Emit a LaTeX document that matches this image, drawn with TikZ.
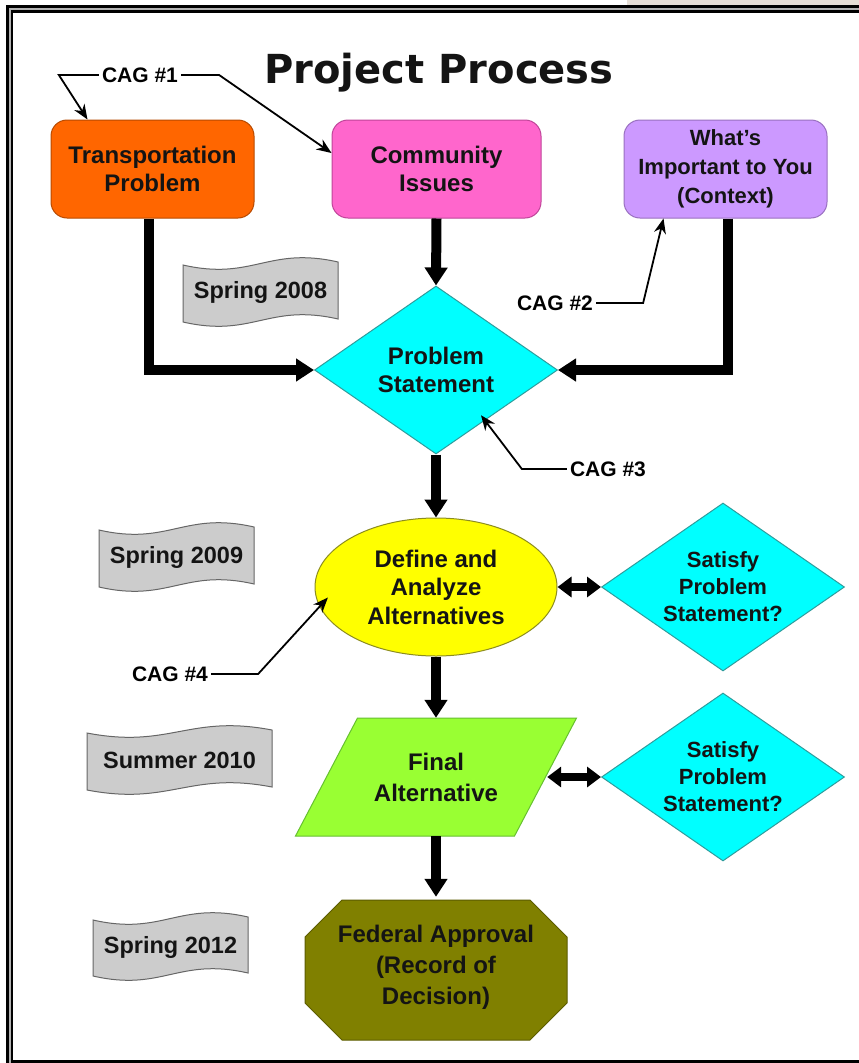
\documentclass[tikz,border=0pt]{standalone}
\usepackage{fontspec}
\setmainfont{Liberation Sans}
\newfontfamily\titlefamily{DejaVu Sans}
\usetikzlibrary{shapes.geometric,arrows.meta}
\definecolor{orangebox}{HTML}{FF6600}
\definecolor{orangeedge}{HTML}{B84A00}
\definecolor{pinkbox}{HTML}{FF66CC}
\definecolor{pinkedge}{HTML}{C04499}
\definecolor{lilac}{HTML}{CC99FF}
\definecolor{lilacedge}{HTML}{9970C0}
\definecolor{cyanbox}{HTML}{00FFFF}
\definecolor{cyanedge}{HTML}{2E9C9C}
\definecolor{yellowbox}{HTML}{FFFF00}
\definecolor{yellowedge}{HTML}{8C8C20}
\definecolor{greenbox}{HTML}{99FF33}
\definecolor{greenedge}{HTML}{66C030}
\definecolor{olivebox}{HTML}{808000}
\definecolor{oliveedge}{HTML}{5C5C00}
\definecolor{bannergray}{HTML}{CCCCCC}
\definecolor{banneredge}{HTML}{666666}
\definecolor{textblack}{HTML}{141414}
\definecolor{beige}{HTML}{E6DED6}
\newcommand\fntbox{\bfseries\fontsize{24}{28.5}\selectfont}
\newcommand\fntlow{\bfseries\fontsize{24}{31}\selectfont}
\newcommand\fntsmall{\bfseries\fontsize{22}{27}\selectfont}
\newcommand\fntwhat{\bfseries\fontsize{22}{29}\selectfont}
\newcommand\fntcag{\bfseries\fontsize{21}{25}\selectfont}
\newcommand\fntban{\bfseries\fontsize{23.5}{28}\selectfont}
\newcommand\fnttitle{\titlefamily\bfseries\fontsize{40}{48}\selectfont}
\tikzset{
  rbox/.style={rectangle, rounded corners=16pt, minimum width=203pt, minimum height=98pt,
    inner sep=0pt, align=center, font=\fntbox, text=textblack, line width=1pt},
  diam/.style={diamond, aspect=1.45, minimum width=243pt, minimum height=168pt, inner sep=0pt,
    align=center, font=\fntbox, text=textblack, fill=cyanbox, draw=cyanedge, line width=1pt},
  ell/.style={ellipse, minimum width=242pt, minimum height=138pt, inner sep=0pt,
    align=center, font=\fntbox, text=textblack, fill=yellowbox, draw=yellowedge, line width=1pt},
  plainbox/.style={rectangle, inner sep=0pt, align=center, font=\fntlow, text=textblack},
  bannershape/.style={fill=bannergray, draw=banneredge, line width=1pt},
  bannertext/.style={inner sep=0pt, font=\fntban, text=textblack},
  cagtext/.style={inner sep=3pt, font=\fntcag, text=black},
  bigarrow/.style={line width=10pt, line join=miter, -{Triangle[length=18pt,width=22pt]}},
  dblarrow/.style={line width=8pt, {Triangle[length=14pt,width=20pt]}-{Triangle[length=14pt,width=20pt]}},
  cagline/.style={line width=1.8pt, -{Stealth[length=15pt,width=12pt]}},
}
\newcommand\wavebanner[6]{%
  \filldraw[bannershape] (#2,#3) .. controls ({#2+0.45*#4},{#3+16}) and ({#2+0.55*#4},{#3-19}) .. ({#2+#4},{#3-3})
    -- ({#2+#4},{#3+#5-3}) .. controls ({#2+0.55*#4},{#3+#5-19}) and ({#2+0.45*#4},{#3+#5+16}) .. (#2,{#3+#5}) -- cycle;
  \node[bannertext] (#1) at ({#2+#4/2},{#3+#5/2-1}) {#6};
}
\begin{document}
\begin{tikzpicture}[x=1pt,y=-1pt]
\useasboundingbox (0,0) rectangle (859,1063);
\fill[white] (0,0) rectangle (859,1063);
\fill[beige] (627,0) rectangle (859,5);
% frame
\draw[line width=7pt, color=gray!60] (9.8,1063) |- (859,8.8);
\draw[line width=3pt] (7.5,1063) |- (859,6.2);
\draw[line width=2.2pt] (12.2,1063) |- (859,11.5);
\draw[line width=2.2pt] (12.2,1061.5) -- (859,1061.5);

% title
\node[anchor=base, inner sep=0pt, font=\fnttitle, text=textblack] (title) at (439,83) {Project Process};

% top boxes
\node[rbox, fill=orangebox, draw=orangeedge] (tp) at (152.5,169) {Transportation\\Problem};
\node[rbox, fill=pinkbox, draw=pinkedge, minimum width=209pt] (ci) at (436.5,169) {Community\\Issues};
\node[rbox, fill=lilac, draw=lilacedge, font=\fntwhat] (wi) at (725.5,169) {What’s\\Important to You\\(Context)};

% diamonds and ellipse
\node[diam] (ps) at (436,370) {Problem\\Statement};
\node[ell] (dfa) at (436,587) {Define and\\Analyze\\Alternatives};
\node[diam, font=\fntsmall] (sat1) at (723,587) {Satisfy\\Problem\\Statement?};
\node[diam, font=\fntsmall] (sat2) at (723,777) {Satisfy\\Problem\\Statement?};

% parallelogram
\filldraw[fill=greenbox, draw=greenedge, line width=1pt] (357.5,718) -- (576.5,718) -- (514.5,836) -- (295.5,836) -- cycle;
\node[plainbox, minimum width=222pt, minimum height=118pt] (final) at (436,777) {Final\\Alternative};

% octagon
\filldraw[fill=olivebox, draw=oliveedge, line width=1pt] (342,900) -- (530,900) -- (567,937) -- (567,1003) -- (530,1040) -- (342,1040) -- (305,1003) -- (305,937) -- cycle;
\node[plainbox, minimum width=262pt, minimum height=140pt] (fed) at (436,967) {Federal Approval\\(Record of\\Decision)};

% banners
\wavebanner{b2008}{183}{265}{155}{57}{Spring 2008}
\wavebanner{b2009}{99}{530}{155}{57}{Spring 2009}
\wavebanner{b2010}{87}{733}{185}{57}{Summer 2010}
\wavebanner{b2012}{93}{920}{155}{56}{Spring 2012}

% main connectors
\draw[bigarrow] ([xshift=-4pt]tp.south) |- (ps.west);
\draw[bigarrow] (ci.south) -- (ps.north);
\draw[bigarrow] ([xshift=2pt]wi.south) |- (ps.east);
\draw[bigarrow] (ps.south) -- (dfa.north);
\draw[dblarrow] (dfa.east) -- (sat1.west);
\draw[bigarrow] (dfa.south) -- (final.north);
\draw[dblarrow] (final.east) -- (sat2.west);
\draw[bigarrow] (final.south) -- (fed.north);

% CAG labels
\node[cagtext] (cag1) at (140,75) {CAG \#1};
\draw[cagline] (cag1.west) -- ++(-40,0) -- ([xshift=-65pt]tp.north);
\draw[cagline] (cag1.east) -- ++(38,0) -- ([yshift=16pt]ci.west);
\node[cagtext] (cag2) at (555,303) {CAG \#2};
\draw[cagline] (cag2.east) -- ++(47,0) -- ([xshift=-62pt]wi.south);
\node[cagtext] (cag3) at (608,469) {CAG \#3};
\draw[cagline] (cag3.west) -- ++(-45,0) -- ([xshift=-16pt,yshift=-3pt]ps.south east);
\node[cagtext] (cag4) at (170,674) {CAG \#4};
\draw[cagline] (cag4.east) -- ++(47,0) -- ([xshift=12pt]dfa.185);
\end{tikzpicture}
\end{document}
